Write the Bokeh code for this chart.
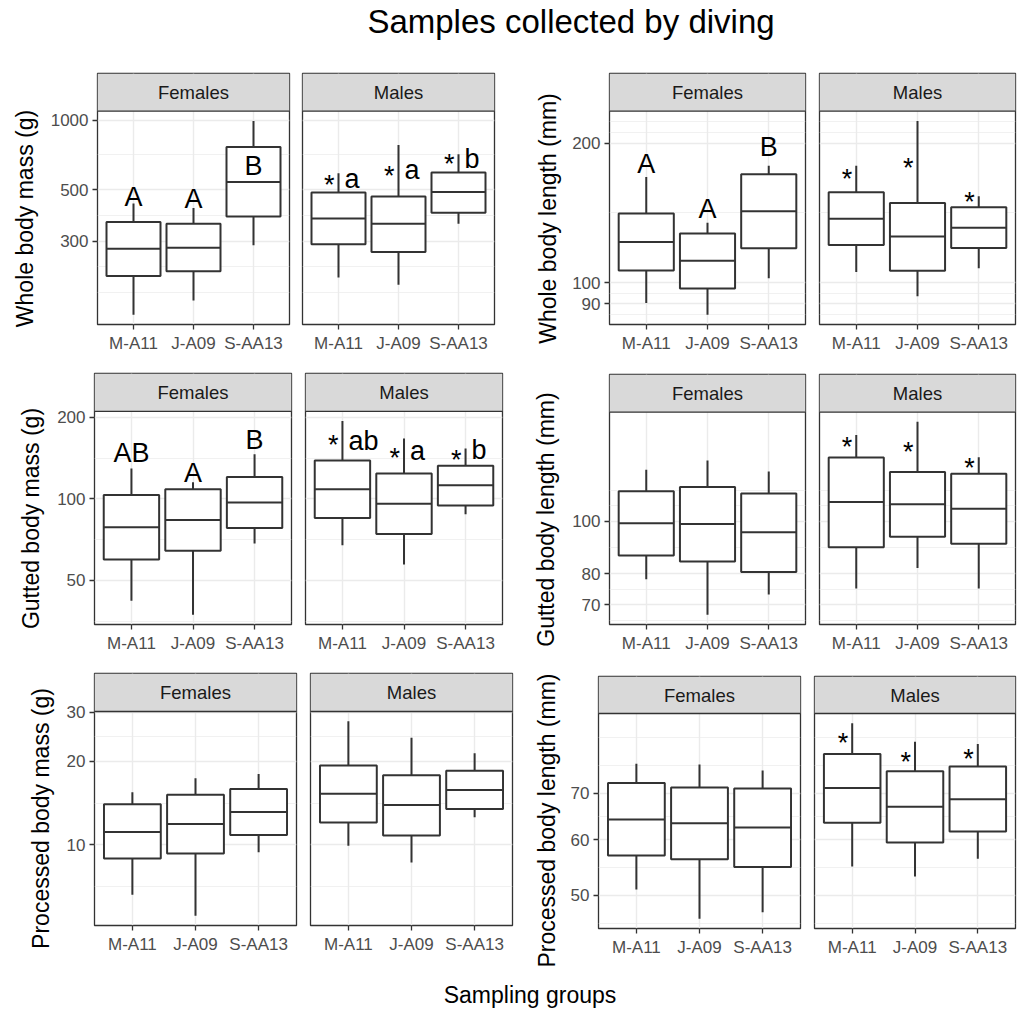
import math
from bokeh.plotting import figure
from bokeh.models import Range1d, FixedTicker, PrintfTickFormatter, Div
from bokeh.layouts import row, column
from bokeh.embed import file_html
from bokeh.resources import INLINE
from bokeh.core.properties import value

# ------------------------------------------------------------------ data
title_text = "Samples collected by diving"
xlabel_text = "Sampling groups"
groups = ["M-A11", "J-A09", "S-AA13"]
sex_labels = ["Females", "Males"]

# Whole body mass (g)
wm_title = "Whole body mass (g)"
wm_breaks = [300, 500, 1000]
wm_f_low = [144, 166, 288]
wm_f_q1 = [212, 222, 383]
wm_f_med = [278, 281, 540]
wm_f_q3 = [363, 357, 765]
wm_f_high = [436, 417, 993]
wm_m_low = [209, 194, 357]
wm_m_q1 = [291, 269, 398]
wm_m_med = [376, 357, 489]
wm_m_q3 = [487, 468, 594]
wm_m_high = [590, 781, 713]
wm_f_letters = ["A", "A", "B"]
wm_f_letter_y = [424, 417, 580]
wm_m_letters = ["a", "a", "b"]
wm_m_letter_y = [509, 558, 620]
wm_m_star_y = [548, 597, 675]

# Whole body length (mm)
wl_title = "Whole body length (mm)"
wl_breaks = [90, 100, 200]
wl_f_low = [90.3, 85.2, 102.2]
wl_f_q1 = [106.2, 97.1, 118.6]
wl_f_med = [122.3, 111.4, 142.6]
wl_f_q3 = [141.0, 127.6, 171.3]
wl_f_high = [169.0, 134.6, 178.8]
wl_m_low = [105.4, 93.4, 107.4]
wl_m_q1 = [120.5, 106.0, 118.8]
wl_m_med = [137.3, 125.7, 131.3]
wl_m_q3 = [156.6, 148.6, 145.4]
wl_m_high = [178.8, 223.4, 153.6]
wl_f_letters = ["A", "A", "B"]
wl_f_letter_y = [172.5, 138.0, 187.3]
wl_m_star_y = [170.3, 180.5, 152.6]

# Gutted body mass (g)
gm_title = "Gutted body mass (g)"
gm_breaks = [50, 100, 200]
gm_f_low = [42.0, 37.3, 68.4]
gm_f_q1 = [59.7, 64.3, 78.0]
gm_f_med = [78.5, 83.5, 96.9]
gm_f_q3 = [103.4, 108.5, 120.4]
gm_f_high = [129.6, 115.1, 146.3]
gm_m_low = [67.4, 57.2, 87.8]
gm_m_q1 = [84.9, 74.2, 94.5]
gm_m_med = [108.5, 95.9, 112.2]
gm_m_q3 = [138.7, 124.2, 132.6]
gm_m_high = [193.9, 167.0, 153.5]
gm_f_letters = ["AB", "A", "B"]
gm_f_letter_y = [137.1, 115.1, 152.6]
gm_m_letters = ["ab", "a", "b"]
gm_m_letter_y = [151.3, 139.1, 139.9]
gm_m_star_y = [163.6, 146.0, 144.1]

# Gutted body length (mm)
gl_title = "Gutted body length (mm)"
gl_breaks = [70, 80, 100]
gl_f_low = [78.1, 67.1, 73.2]
gl_f_q1 = [86.5, 84.3, 80.6]
gl_f_med = [99.2, 98.9, 95.5]
gl_f_q3 = [113.8, 115.9, 112.7]
gl_f_high = [124.7, 129.7, 123.8]
gl_m_low = [75.1, 82.0, 75.1]
gl_m_q1 = [89.6, 93.7, 90.9]
gl_m_med = [108.6, 107.6, 105.6]
gl_m_q3 = [131.4, 123.5, 122.6]
gl_m_high = [144.6, 153.0, 131.6]
gl_m_star_y = [139.7, 136.6, 128.0]

# Processed body mass (g)
pm_title = "Processed body mass (g)"
pm_breaks = [10, 20, 30]
pm_f_low = [6.61, 5.55, 9.41]
pm_f_q1 = [8.93, 9.30, 10.86]
pm_f_med = [11.13, 11.90, 13.14]
pm_f_q3 = [14.0, 15.16, 15.9]
pm_f_high = [15.47, 17.37, 18.0]
pm_m_low = [9.92, 8.64, 12.58]
pm_m_q1 = [12.03, 10.8, 13.47]
pm_m_med = [15.29, 13.93, 15.76]
pm_m_q3 = [19.34, 17.8, 18.5]
pm_m_high = [27.9, 24.3, 21.4]

# Processed body length (mm)
pl_title = "Processed body length (mm)"
pl_breaks = [50, 60, 70]
pl_f_low = [50.96, 46.3, 47.3]
pl_f_q1 = [57.0, 56.3, 54.9]
pl_f_med = [64.2, 63.4, 62.5]
pl_f_q3 = [72.4, 71.3, 71.1]
pl_f_high = [77.1, 76.9, 75.4]
pl_m_low = [55.0, 53.2, 56.4]
pl_m_q1 = [63.5, 59.5, 61.7]
pl_m_med = [71.2, 66.95, 68.6]
pl_m_q3 = [79.6, 75.2, 76.4]
pl_m_high = [88.1, 82.9, 82.3]
pl_m_star_y = [83.7, 78.7, 79.3]


def stats(low, q1, med, q3, high):
    return dict(low=low, q1=q1, med=med, q3=q3, high=high)


metrics = {
    "wm": dict(title=wm_title, breaks=wm_breaks,
               F=stats(wm_f_low, wm_f_q1, wm_f_med, wm_f_q3, wm_f_high),
               M=stats(wm_m_low, wm_m_q1, wm_m_med, wm_m_q3, wm_m_high),
               F_ann=dict(letters=wm_f_letters, letter_y=wm_f_letter_y),
               M_ann=dict(letters=wm_m_letters, letter_y=wm_m_letter_y, star_y=wm_m_star_y)),
    "wl": dict(title=wl_title, breaks=wl_breaks,
               F=stats(wl_f_low, wl_f_q1, wl_f_med, wl_f_q3, wl_f_high),
               M=stats(wl_m_low, wl_m_q1, wl_m_med, wl_m_q3, wl_m_high),
               F_ann=dict(letters=wl_f_letters, letter_y=wl_f_letter_y),
               M_ann=dict(star_y=wl_m_star_y)),
    "gm": dict(title=gm_title, breaks=gm_breaks,
               F=stats(gm_f_low, gm_f_q1, gm_f_med, gm_f_q3, gm_f_high),
               M=stats(gm_m_low, gm_m_q1, gm_m_med, gm_m_q3, gm_m_high),
               F_ann=dict(letters=gm_f_letters, letter_y=gm_f_letter_y),
               M_ann=dict(letters=gm_m_letters, letter_y=gm_m_letter_y, star_y=gm_m_star_y)),
    "gl": dict(title=gl_title, breaks=gl_breaks,
               F=stats(gl_f_low, gl_f_q1, gl_f_med, gl_f_q3, gl_f_high),
               M=stats(gl_m_low, gl_m_q1, gl_m_med, gl_m_q3, gl_m_high),
               F_ann=dict(), M_ann=dict(star_y=gl_m_star_y)),
    "pm": dict(title=pm_title, breaks=pm_breaks,
               F=stats(pm_f_low, pm_f_q1, pm_f_med, pm_f_q3, pm_f_high),
               M=stats(pm_m_low, pm_m_q1, pm_m_med, pm_m_q3, pm_m_high),
               F_ann=dict(), M_ann=dict()),
    "pl": dict(title=pl_title, breaks=pl_breaks,
               F=stats(pl_f_low, pl_f_q1, pl_f_med, pl_f_q3, pl_f_high),
               M=stats(pl_m_low, pl_m_q1, pl_m_med, pl_m_q3, pl_m_high),
               F_ann=dict(), M_ann=dict(star_y=pl_m_star_y)),
}

# ------------------------------------------------------------------ styling / layout
FONT = "Liberation Sans"
DARK = "#333333"
GRID = "#ebebeb"
STRIP = "#d9d9d9"
BOX_W = 0.9
ANN_SIZE = "27px"
LETTER_DY = -9
STAR_DY = 4

# layout in window pixels
rows_geo = [
    dict(top=60, bottom=355, metrics=("wm", "wl"),
         L=dict(strip=73, ptop=111, pbot=326, yt=(0, 42, 27), f=(42, 296, 97, 289), m=(296, 500, 302, 494)),
         R=dict(strip=73, ptop=111, pbot=326, yt=(500, 565, 550), f=(565, 812, 609, 805), m=(812, 1026, 819, 1015))),
    dict(top=355, bottom=655, metrics=("gm", "gl"),
         L=dict(strip=373, ptop=411, pbot=625, yt=(0, 48, 33), f=(48, 298, 94, 291), m=(298, 505, 305, 502)),
         R=dict(strip=374, ptop=412, pbot=626, yt=(505, 563, 548), f=(563, 812, 609, 805), m=(812, 1026, 819, 1015))),
    dict(top=655, bottom=968, metrics=("pm", "pl"),
         L=dict(strip=673, ptop=711, pbot=925, yt=(0, 60, 43), f=(60, 303, 94, 296), m=(303, 515, 310, 512)),
         R=dict(strip=676, ptop=713, pbot=928, yt=(515, 565, 549), f=(565, 807, 598, 800), m=(807, 1026, 814, 1015))),
]
TITLE_H = 60
XLABEL_H = 42

xs = [i + 1 for i in range(len(groups))]


def log_limits(m):
    vals = m["F"]["low"] + m["M"]["low"] + m["F"]["high"] + m["M"]["high"]
    lo, hi = math.log10(min(vals)), math.log10(max(vals))
    span = hi - lo
    return lo - 0.05 * span, hi + 0.05 * span


def minor_breaks(breaks, lo, hi):
    b = [math.log10(v) for v in breaks]
    bd = b[1] - b[0]
    if lo < b[0]:
        b = [b[0] - bd] + b
    if hi > b[-1]:
        b = b + [b[-1] + bd]
    out = []
    for a, c in zip(b[:-1], b[1:]):
        out += [a, (a + c) / 2]
    out.append(b[-1])
    majors = [math.log10(v) for v in breaks]
    return [10 ** v for v in out if lo <= v <= hi and all(abs(v - mj) > 1e-9 for mj in majors)]


def ytitle_div(text, ext, g, top, height):
    x0, x1, cx = ext
    w = x1 - x0
    cy = (g["ptop"] + g["pbot"]) / 2 - top
    L = 400
    html = (
        f'<div style="position:relative;width:{w}px;height:{height}px;overflow:hidden;">'
        f'<div style="position:absolute;left:{cx - 2 - x0 - L / 2:.1f}px;top:{cy - 11.5:.1f}px;'
        f'width:{L}px;height:23px;text-align:center;font-family:\'Liberation Sans\';'
        f'font-size:23px;line-height:23px;color:#000;white-space:nowrap;'
        f'transform:rotate(-90deg);transform-origin:50% 50%;">{text}</div></div>')
    return Div(width=w, height=height, text=html, margin=0)


def make_panel(m, sex, g, ext, show_y, top, height):
    fx0, fx1, frl, frr = ext
    lo, hi = log_limits(m)
    span = hi - lo
    strip_px = g["ptop"] - g["strip"]
    plot_px = g["pbot"] - g["ptop"]
    top_ext = hi + span * strip_px / plot_px
    n = len(groups)
    p = figure(width=fx1 - fx0, height=height,
               x_range=Range1d(1 - 0.6, n + 0.6),
               y_range=Range1d(10 ** lo, 10 ** top_ext), y_axis_type="log",
               toolbar_location=None, output_backend="svg",
               min_border_left=frl - fx0, min_border_right=fx1 - frr,
               min_border_top=g["strip"] - top, min_border_bottom=top + height - g["pbot"])
    if "frame_align" in p.properties():
        p.frame_align = False
    p.background_fill_color = "white"
    p.border_fill_color = "white"
    p.outline_line_color = DARK
    p.outline_line_width = 1.3

    xt = FixedTicker(ticks=xs)
    p.xaxis.ticker = xt
    p.xgrid.ticker = xt
    p.xaxis.major_label_overrides = {x: lab for x, lab in zip(xs, groups)}
    yt = FixedTicker(ticks=m["breaks"], minor_ticks=minor_breaks(m["breaks"], lo, hi))
    p.yaxis.ticker = yt
    p.ygrid.ticker = yt
    p.yaxis.formatter = PrintfTickFormatter(format="%d")

    for ax in p.axis:
        ax.axis_line_color = None
        ax.major_tick_line_color = DARK
        ax.major_tick_line_width = 1.3
        ax.major_tick_out = 5
        ax.major_tick_in = 0
        ax.minor_tick_out = 0
        ax.minor_tick_in = 0
        ax.minor_tick_line_color = None
        ax.major_label_text_font = FONT
        ax.major_label_text_font_size = "17px"
        ax.major_label_text_color = "#4d4d4d"
        ax.major_label_standoff = 4
    p.yaxis.visible = show_y

    p.grid.grid_line_color = GRID
    p.grid.grid_line_width = 1.4
    p.ygrid.minor_grid_line_color = GRID
    p.ygrid.minor_grid_line_width = 0.7

    s = m[sex]
    # whiskers
    p.segment(x0=xs, x1=xs, y0=s["q3"], y1=s["high"], line_color=DARK, line_width=2)
    p.segment(x0=xs, x1=xs, y0=s["low"], y1=s["q1"], line_color=DARK, line_width=2)
    # boxes + medians
    p.vbar(x=xs, width=BOX_W, bottom=s["q1"], top=s["q3"], fill_color="white",
           line_color=DARK, line_width=2)
    p.segment(x0=[x - BOX_W / 2 for x in xs], x1=[x + BOX_W / 2 for x in xs],
              y0=s["med"], y1=s["med"], line_color=DARK, line_width=2)

    ann = m[sex + "_ann"]
    if "letters" in ann:
        if sex == "F":
            p.text(x=xs, y=ann["letter_y"], text=ann["letters"], text_align="center",
                   y_offset=LETTER_DY, text_baseline="alphabetic", text_font=value(FONT),
                   text_font_size=ANN_SIZE, text_color="black")
        else:
            p.text(x=xs, y=ann["letter_y"], text=ann["letters"], text_align="left",
                   x_offset=6, y_offset=LETTER_DY, text_baseline="alphabetic",
                   text_font=value(FONT), text_font_size=ANN_SIZE, text_color="black")
    if "star_y" in ann:
        p.text(x=xs, y=ann["star_y"], text=["*"] * len(xs), text_align="right",
               x_offset=-4, y_offset=STAR_DY, text_baseline="alphabetic", text_font=value(FONT),
               text_font_size=ANN_SIZE, text_color="black")

    # facet strip
    x_lo, x_hi = 1 - 0.6, n + 0.6
    p.quad(left=[x_lo], right=[x_hi], bottom=[10 ** hi], top=[10 ** top_ext],
           fill_color=STRIP, line_color=None)
    p.segment(x0=[x_lo], x1=[x_hi], y0=[10 ** hi], y1=[10 ** hi], line_color=DARK, line_width=1.3)
    p.text(x=[(x_lo + x_hi) / 2], y=[10 ** (hi + span * strip_px / 2 / plot_px)],
           text=[sex_labels[0] if sex == "F" else sex_labels[1]],
           text_align="center", text_baseline="middle", text_font=value(FONT),
           text_font_size="18.5px", text_color="#1a1a1a")
    return p


rows_out = []
for rg in rows_geo:
    h = rg["bottom"] - rg["top"]
    kids = []
    for side, key in zip(("L", "R"), rg["metrics"]):
        g = rg[side]
        m = metrics[key]
        kids.append(ytitle_div(m["title"], g["yt"], g, rg["top"], h))
        kids.append(make_panel(m, "F", g, g["f"], True, rg["top"], h))
        kids.append(make_panel(m, "M", g, g["m"], False, rg["top"], h))
    rows_out.append(row(*kids, spacing=0))

title_div = Div(width=1026, height=TITLE_H, margin=0, text=(
    f'<div style="position:relative;width:1026px;height:{TITLE_H}px;overflow:hidden;">'
    '<div style="position:absolute;left:71px;top:5px;width:1000px;text-align:center;'
    "font-family:'Liberation Sans';font-size:33px;line-height:33px;color:#000;white-space:nowrap;\">"
    + title_text + '</div></div>'))
xlabel_div = Div(width=1026, height=XLABEL_H, margin=0, text=(
    f'<div style="position:relative;width:1026px;height:{XLABEL_H}px;overflow:hidden;">'
    '<div style="position:absolute;left:30px;top:16px;width:1000px;text-align:center;'
    "font-family:'Liberation Sans';font-size:23px;line-height:23px;color:#000;white-space:nowrap;\">"
    + xlabel_text + '</div></div>'))

layout = column(title_div, *rows_out, xlabel_div, spacing=0)

open("out.html", "w").write(file_html(layout, INLINE))
